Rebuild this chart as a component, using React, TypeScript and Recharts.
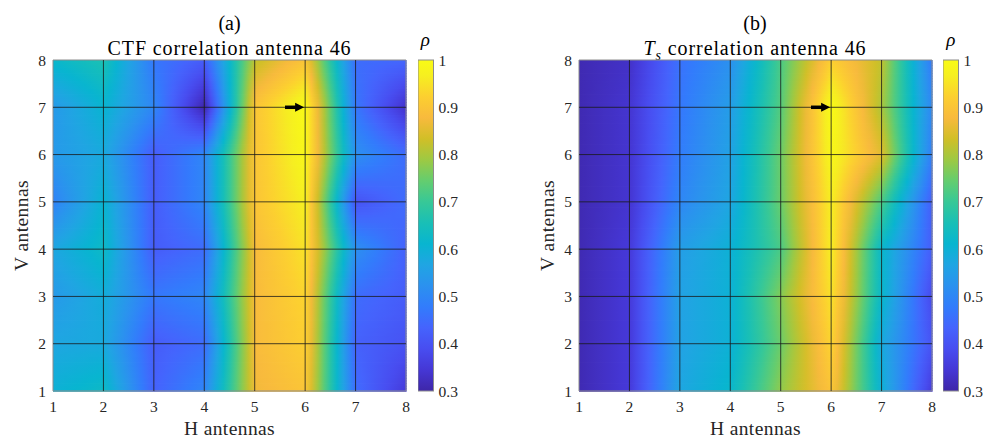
import { ComposedChart, XAxis, YAxis, ReferenceArea, ReferenceLine, Label } from 'recharts';

const FONT = "'Liberation Serif', 'Times New Roman', serif";

const hAntennas = [1, 2, 3, 4, 5, 6, 7, 8];
const vAntennas = [1, 2, 3, 4, 5, 6, 7, 8];
const rhoTicks = [0.3, 0.4, 0.5, 0.6, 0.7, 0.8, 0.9, 1];

// correlation per antenna, rows from V=8 (top) down to V=1, columns H=1..8
const ctfRows = [
  [0.62, 0.66, 0.47, 0.42, 0.82, 0.9, 0.45, 0.44],
  [0.54, 0.61, 0.5, 0.3, 0.9, 1.0, 0.47, 0.33],
  [0.54, 0.58, 0.42, 0.5, 0.9, 0.99, 0.52, 0.45],
  [0.49, 0.61, 0.42, 0.5, 0.9, 0.97, 0.4, 0.45],
  [0.57, 0.63, 0.42, 0.45, 0.88, 0.95, 0.52, 0.43],
  [0.54, 0.59, 0.47, 0.5, 0.88, 0.93, 0.45, 0.42],
  [0.57, 0.58, 0.42, 0.45, 0.88, 0.92, 0.43, 0.4],
  [0.6, 0.63, 0.43, 0.5, 0.87, 0.9, 0.45, 0.35],
];

const tsRows = [
  [0.31, 0.33, 0.46, 0.52, 0.72, 0.92, 0.82, 0.47],
  [0.31, 0.34, 0.47, 0.55, 0.73, 1.0, 0.8, 0.5],
  [0.31, 0.34, 0.48, 0.56, 0.75, 0.99, 0.85, 0.48],
  [0.31, 0.34, 0.5, 0.57, 0.75, 0.97, 0.72, 0.42],
  [0.31, 0.35, 0.55, 0.6, 0.72, 0.97, 0.62, 0.42],
  [0.31, 0.35, 0.56, 0.6, 0.77, 0.95, 0.62, 0.38],
  [0.31, 0.35, 0.56, 0.6, 0.75, 0.93, 0.58, 0.4],
  [0.31, 0.35, 0.57, 0.62, 0.78, 0.9, 0.6, 0.35],
];

// reference antenna marker
const arrowFrom = { x: 5.6, y: 7 };
const arrowTo = { x: 5.98, y: 7 };

// parula colormap, sampled
const PARULA = [
  [0.2422, 0.1504, 0.6603],
  [0.2706, 0.2147, 0.8364],
  [0.2813, 0.3006, 0.9414],
  [0.2699, 0.3892, 0.9906],
  [0.1963, 0.4847, 0.9892],
  [0.1687, 0.5703, 0.9359],
  [0.1248, 0.6459, 0.8883],
  [0.0297, 0.7082, 0.8163],
  [0.0964, 0.75, 0.712],
  [0.2161, 0.7843, 0.5923],
  [0.3909, 0.8029, 0.4354],
  [0.6174, 0.7876, 0.2612],
  [0.8203, 0.7498, 0.1535],
  [0.9728, 0.7298, 0.2394],
  [0.9892, 0.8136, 0.1885],
  [0.9628, 0.9373, 0.1265],
  [0.9769, 0.9839, 0.0805],
];
const PARULA_POS = [0, 4, 8, 12, 16, 20, 24, 28, 32, 36, 40, 44, 48, 52, 56, 60, 63].map((i) => i / 63);

const C_MIN = 0.3;
const C_MAX = 1;

function parula(v: number) {
  const t = Math.min(1, Math.max(0, (v - C_MIN) / (C_MAX - C_MIN)));
  let k = 0;
  while (k < PARULA_POS.length - 2 && t > PARULA_POS[k + 1]) k++;
  const f = (t - PARULA_POS[k]) / (PARULA_POS[k + 1] - PARULA_POS[k]);
  const a = PARULA[k];
  const b = PARULA[k + 1];
  const c = a.map((ch, i) => Math.round(255 * (ch + (b[i] - ch) * f)));
  return `rgb(${c[0]},${c[1]},${c[2]})`;
}

const STRIPS = 18;
const STOPS = 8;

function cellShape(id: string, bl: number, br: number, tl: number, tr: number) {
  return (p: any) => {
    const { x, y, width, height } = p;
    const h = height / STRIPS;
    const defs = [];
    const rects = [];
    for (let k = 0; k < STRIPS; k++) {
      const f = (k + 0.5) / STRIPS;
      const left = tl + (bl - tl) * f;
      const right = tr + (br - tr) * f;
      const gid = `${id}-${k}`;
      const stops = [];
      for (let s = 0; s <= STOPS; s++) {
        stops.push(
          <stop key={s} offset={s / STOPS} stopColor={parula(left + ((right - left) * s) / STOPS)} />
        );
      }
      defs.push(
        <linearGradient key={gid} id={gid} x1="0" y1="0" x2="1" y2="0">
          {stops}
        </linearGradient>
      );
      rects.push(
        <rect
          key={gid}
          x={x}
          y={y + k * h}
          width={width + 0.6}
          height={h + 0.8}
          fill={`url(#${gid})`}
        />
      );
    }
    return (
      <g>
        <defs>{defs}</defs>
        {rects}
      </g>
    );
  };
}

function arrowShape(p: any) {
  const { x1, y1, x2 } = p;
  const head = 9;
  return (
    <g>
      <line x1={x1} y1={y1} x2={x2 - head + 1} y2={y1} stroke="#000" strokeWidth={3.5} />
      <polygon points={`${x2 - head},${y1 - 4.5} ${x2},${y1} ${x2 - head},${y1 + 4.5}`} fill="#000" />
    </g>
  );
}

function colorbarShape(id: string) {
  return (p: any) => {
    const { x, y, width, height } = p;
    return (
      <g>
        <defs>
          <linearGradient id={id} x1="0" y1="1" x2="0" y2="0">
            {PARULA.map((c, i) => (
              <stop
                key={i}
                offset={PARULA_POS[i]}
                stopColor={`rgb(${Math.round(c[0] * 255)},${Math.round(c[1] * 255)},${Math.round(c[2] * 255)})`}
              />
            ))}
          </linearGradient>
        </defs>
        <rect x={x} y={y} width={width} height={height} fill={`url(#${id})`} stroke="#8c8c8c" strokeWidth={1} />
      </g>
    );
  };
}

const tickStyle = { fill: '#262626', fontSize: 15.5, fontFamily: FONT };
const labelStyle = { fill: '#262626', fontSize: 19.5, fontFamily: FONT, letterSpacing: 0.4 };

function Panel({ id, rows, left, title, letter }: { id: string; rows: number[][]; left: number; title: React.ReactNode; letter: string }) {
  const cells = [];
  for (let i = 0; i < 7; i++) {
    for (let j = 0; j < 7; j++) {
      const bl = rows[7 - j][i];
      const br = rows[7 - j][i + 1];
      const tl = rows[6 - j][i];
      const tr = rows[6 - j][i + 1];
      cells.push(
        <ReferenceArea
          key={`c-${i}-${j}`}
          x1={hAntennas[i]}
          x2={hAntennas[i + 1]}
          y1={vAntennas[j]}
          y2={vAntennas[j + 1]}
          shape={cellShape(`${id}-${i}-${j}`, bl, br, tl, tr)}
        />
      );
    }
  }
  const plotLeft = left + 53;
  const plotW = 353;
  const cbLeft = plotLeft + plotW + 11.5;

  return (
    <>
      <div style={{ position: 'absolute', left: plotLeft, width: plotW, top: 12, textAlign: 'center', fontFamily: FONT, fontSize: 20, lineHeight: '22px', color: '#000' }}>
        {letter}
      </div>
      <div style={{ position: 'absolute', left: plotLeft - 60, width: plotW + 120, top: 37, textAlign: 'center', fontFamily: FONT, fontSize: 20, letterSpacing: 0.9, lineHeight: '22px', color: '#000', whiteSpace: 'nowrap' }}>
        {title}
      </div>
      <div style={{ position: 'absolute', left: cbLeft, width: 15.5, top: 29, textAlign: 'center', fontFamily: FONT, fontStyle: 'italic', fontSize: 19, lineHeight: '22px', color: '#000' }}>
        ρ
      </div>
      <div style={{ position: 'absolute', left, top: 0 }}>
        <ComposedChart width={421} height={439} margin={{ top: 60, right: 15, bottom: 2, left: 8 }}>
          <XAxis
            type="number"
            dataKey="h"
            domain={[1, 8]}
            ticks={hAntennas}
            interval={0}
            allowDataOverflow
            tickLine={false}
            axisLine={false}
            tick={tickStyle}
            tickMargin={4}
            height={46}
          >
            <Label value="H antennas" position="insideBottom" offset={2.5} style={labelStyle} />
          </XAxis>
          <YAxis
            type="number"
            dataKey="v"
            domain={[1, 8]}
            ticks={vAntennas}
            interval={0}
            allowDataOverflow
            tickLine={false}
            axisLine={false}
            tick={tickStyle}
            tickMargin={1}
            width={45}
          >
            <Label
              value="V antennas"
              angle={-90}
              position="insideLeft"
              offset={13}
              style={{ ...labelStyle, textAnchor: 'middle' }}
            />
          </YAxis>
          {cells}
          {hAntennas.slice(1, 7).map((h) => (
            <ReferenceLine key={`gx-${h}`} x={h} stroke="#1a1a1a" strokeOpacity={0.8} strokeWidth={1} />
          ))}
          {vAntennas.slice(1, 7).map((v) => (
            <ReferenceLine key={`gy-${v}`} y={v} stroke="#1a1a1a" strokeOpacity={0.8} strokeWidth={1} />
          ))}
          <ReferenceArea x1={1} x2={8} y1={1} y2={8} fill="none" stroke="#8c8c8c" strokeWidth={1} fillOpacity={0} />
          <ReferenceLine segment={[arrowFrom, arrowTo]} shape={arrowShape} />
        </ComposedChart>
      </div>
      <div style={{ position: 'absolute', left: cbLeft, top: 0 }}>
        <ComposedChart width={60} height={439} margin={{ top: 60, right: 0, bottom: 48, left: 0 }}>
          <XAxis type="number" dataKey="x" domain={[0, 1]} allowDataOverflow hide />
          <YAxis
            type="number"
            dataKey="rho"
            orientation="right"
            domain={[C_MIN, C_MAX]}
            ticks={rhoTicks}
            interval={0}
            allowDataOverflow
            tickLine={false}
            axisLine={false}
            tick={{ ...tickStyle, fontSize: 15.5 }}
            tickSize={2}
            tickMargin={3}
            width={44.5}
          />
          <ReferenceArea x1={0} x2={1} y1={C_MIN} y2={C_MAX} ifOverflow="visible" shape={colorbarShape(`${id}-cb`)} />
        </ComposedChart>
      </div>
    </>
  );
}

export default function App() {
  return (
    <div style={{ position: 'absolute', left: 0, top: 0, width: 985, height: 439, background: '#fff', overflow: 'hidden' }}>
      <Panel id="ctf" rows={ctfRows} left={0} letter="(a)" title="CTF correlation antenna 46" />
      <Panel
        id="ts"
        rows={tsRows}
        left={525.5}
        letter="(b)"
        title={
          <span>
            <i>T</i>
            <sub style={{ fontSize: 14, fontStyle: 'italic', lineHeight: 0 }}>s</sub> correlation antenna 46
          </span>
        }
      />
    </div>
  );
}
